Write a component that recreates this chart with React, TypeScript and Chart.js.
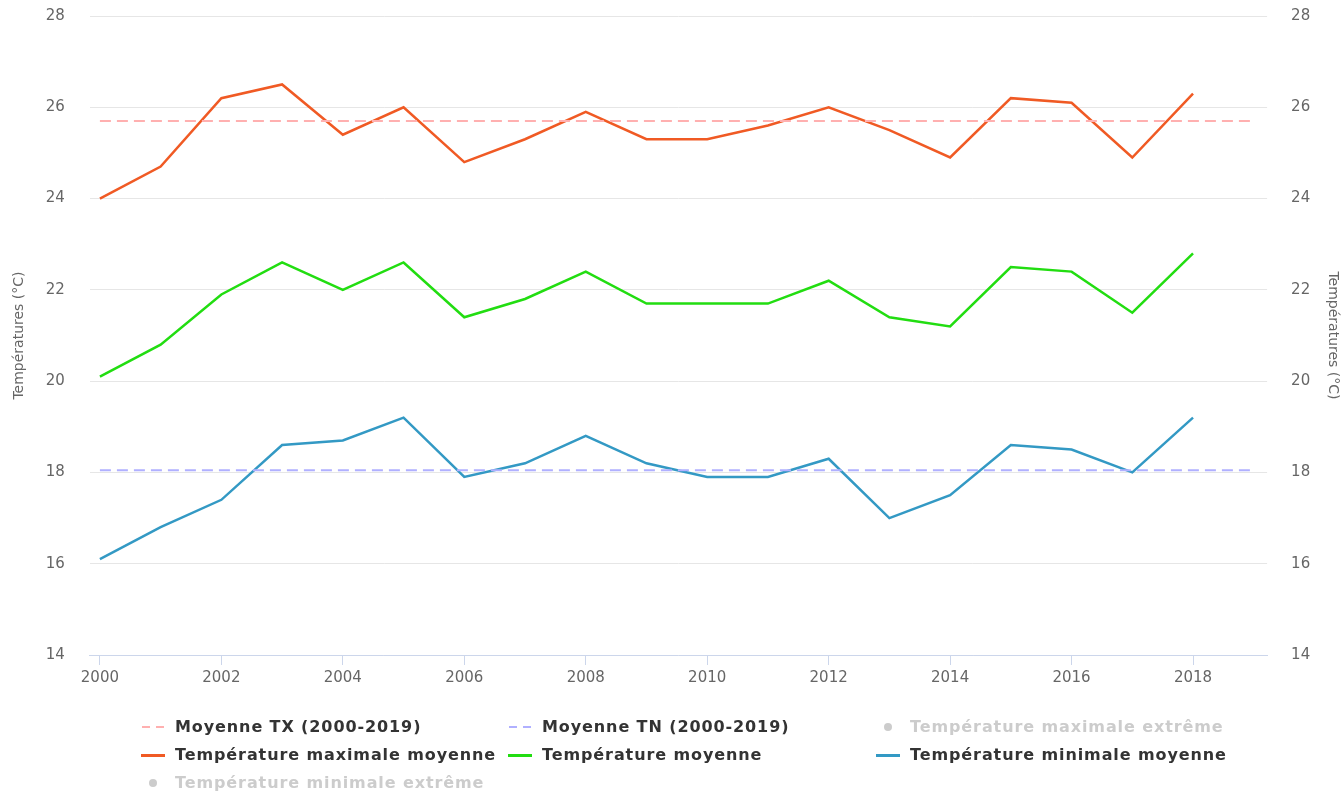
import React, { useEffect, useRef } from "react";
import { Chart, registerables } from "chart.js";

Chart.register(...registerables);

const YEARS = [2000, 2001, 2002, 2003, 2004, 2005, 2006, 2007, 2008, 2009, 2010, 2011, 2012, 2013, 2014, 2015, 2016, 2017, 2018];
const TX_MOY = [24.0, 24.7, 26.2, 26.5, 25.4, 26.0, 24.8, 25.3, 25.9, 25.3, 25.3, 25.6, 26.0, 25.5, 24.9, 26.2, 26.1, 24.9, 26.3];
const T_MOY = [20.1, 20.8, 21.9, 22.6, 22.0, 22.6, 21.4, 21.8, 22.4, 21.7, 21.7, 21.7, 22.2, 21.4, 21.2, 22.5, 22.4, 21.5, 22.8];
const TN_MOY = [16.1, 16.8, 17.4, 18.6, 18.7, 19.2, 17.9, 18.2, 18.8, 18.2, 17.9, 17.9, 18.3, 17.0, 17.5, 18.6, 18.5, 18.0, 19.2];
const MEAN_PERIOD = [2000, 2019];
const MEAN_TX = 25.7;
const MEAN_TN = 18.05;
const X_TICKS = [2000, 2002, 2004, 2006, 2008, 2010, 2012, 2014, 2016, 2018];
const Y_TICKS = [14, 16, 18, 20, 22, 24, 26, 28];

const C_TX = "#f05a24";
const C_T = "#22dd11";
const C_TN = "#3399c4";
const C_MTX = "#ffb0b0";
const C_MTN = "#b0b0ff";

const LEGEND = [
  { label: "Moyenne TX (2000-2019)", type: "dash", color: C_MTX, hidden: false, x: 141, y: 727 },
  { label: "Moyenne TN (2000-2019)", type: "dash", color: C_MTN, hidden: false, x: 508, y: 727 },
  { label: "Température maximale extrême", type: "dot", color: "#cccccc", hidden: true, x: 876, y: 727 },
  { label: "Température maximale moyenne", type: "line", color: C_TX, hidden: false, x: 141, y: 755 },
  { label: "Température moyenne", type: "line", color: C_T, hidden: false, x: 508, y: 755 },
  { label: "Température minimale moyenne", type: "line", color: C_TN, hidden: false, x: 876, y: 755 },
  { label: "Température minimale extrême", type: "dot", color: "#cccccc", hidden: true, x: 141, y: 783 },
];

const pts = (vals: number[]) => vals.map((v, i) => ({ x: YEARS[i], y: v }));

export default function App() {
  const ref = useRef<HTMLCanvasElement | null>(null);
  useEffect(() => {
    document.body.style.margin = "0";
    const fontFam = "'DejaVu Sans', sans-serif";
    const setTicks = (vals: number[]) => (scale: any) => {
      scale.ticks = vals.map((v) => ({ value: v }));
    };
    const tickFont = { family: fontFam, size: 15 };
    const titleFont = { family: fontFam, size: 14 };
    const chart = new Chart(ref.current as HTMLCanvasElement, {
      type: "line",
      data: {
        datasets: [
          {
            label: "Moyenne TX (2000-2019)",
            data: MEAN_PERIOD.map((x) => ({ x, y: MEAN_TX })),
            borderColor: C_MTX,
            borderWidth: 2,
            borderDash: [11, 6],
            pointRadius: 0,
          },
          {
            label: "Moyenne TN (2000-2019)",
            data: MEAN_PERIOD.map((x) => ({ x, y: MEAN_TN })),
            borderColor: C_MTN,
            borderWidth: 2,
            borderDash: [11, 6],
            pointRadius: 0,
          },
          { label: "Température maximale moyenne", data: pts(TX_MOY), borderColor: C_TX, borderWidth: 2.5, pointRadius: 0 },
          { label: "Température moyenne", data: pts(T_MOY), borderColor: C_T, borderWidth: 2.5, pointRadius: 0 },
          { label: "Température minimale moyenne", data: pts(TN_MOY), borderColor: C_TN, borderWidth: 2.5, pointRadius: 0 },
        ],
      },
      options: {
        animation: false,
        responsive: false,
        events: [],
        layout: { padding: { top: 16, bottom: 103, left: 0, right: 0 } },
        plugins: { legend: { display: false }, tooltip: { enabled: false } },
        scales: {
          x: {
            type: "linear",
            min: 1999.835,
            max: 2019.22,
            afterBuildTicks: setTicks(X_TICKS),
            grid: { drawOnChartArea: false, color: "#ccd6eb", tickLength: 10, tickColor: "#ccd6eb" },
            border: { color: "#ccd6eb" },
            ticks: { color: "#666", font: tickFont, padding: 4, callback: (v: any) => String(v) },
          },
          y: {
            position: "left",
            min: 14,
            max: 28,
            afterBuildTicks: setTicks(Y_TICKS),
            grid: { color: "#e6e6e6", drawTicks: true, tickLength: 25, tickColor: "rgba(0,0,0,0)" },
            border: { display: false },
            ticks: { color: "#666", font: tickFont, padding: 0 },
            title: { display: true, text: "Températures (°C)", color: "#666", font: titleFont, padding: { top: 11, bottom: 18 } },
          },
          y1: {
            position: "right",
            min: 14,
            max: 28,
            afterBuildTicks: setTicks(Y_TICKS),
            grid: { drawOnChartArea: false, drawTicks: true, tickLength: 24, tickColor: "rgba(0,0,0,0)" },
            border: { display: false },
            ticks: { color: "#666", font: tickFont, padding: 0 },
            title: { display: true, text: "Températures (°C)", color: "#666", font: titleFont, padding: { top: 2, bottom: 14 } },
          },
        },
      },
    });
    return () => chart.destroy();
  }, []);

  return (
    <div style={{ position: "relative", width: 1343, height: 794, fontFamily: "'DejaVu Sans', sans-serif" }}>
      <canvas ref={ref} width={1343} height={794} style={{ position: "absolute", left: 0, top: 0 }} />
      {LEGEND.map((it) => (
        <div
          key={it.label}
          style={{
            position: "absolute",
            left: it.x,
            top: it.y - 11,
            height: 20,
            display: "flex",
            alignItems: "center",
            whiteSpace: "nowrap",
            fontSize: 16,
            letterSpacing: "0.9px",
            fontWeight: "bold",
            color: it.hidden ? "#cccccc" : "#333333",
          }}
        >
          <div style={{ width: 24, height: 20, position: "relative", marginRight: 10, flexShrink: 0, top: 1 }}>
            {it.type === "dot" ? (
              <div style={{ position: "absolute", left: 8, top: 6, width: 8, height: 8, borderRadius: 4, background: "#cccccc" }} />
            ) : it.type === "dash" ? (
              <>
                <div style={{ position: "absolute", left: 1, top: 9, width: 8, height: 2, background: it.color }} />
                <div style={{ position: "absolute", left: 15, top: 9, width: 8, height: 2, background: it.color }} />
              </>
            ) : (
              <div style={{ position: "absolute", left: 0, top: 8.5, width: 24, height: 3, background: it.color }} />
            )}
          </div>
          <span>{it.label}</span>
        </div>
      ))}
    </div>
  );
}
